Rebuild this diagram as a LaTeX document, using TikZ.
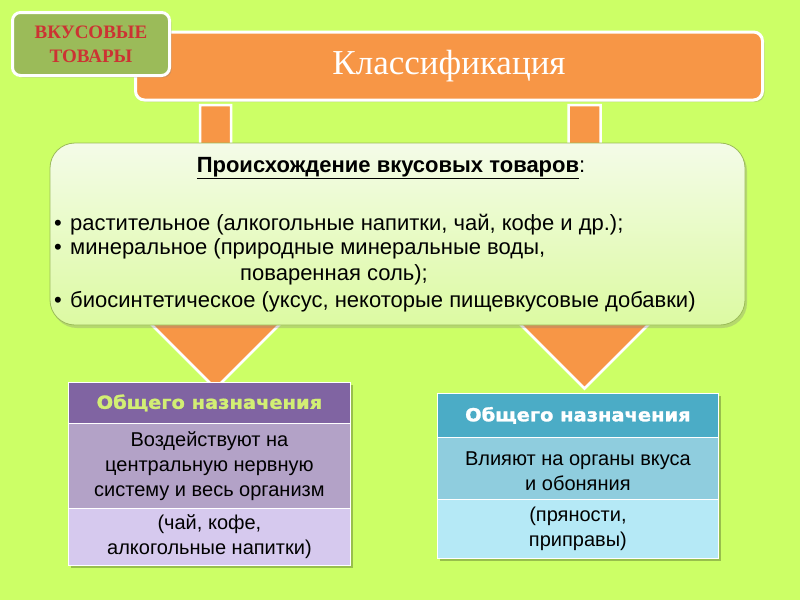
\documentclass[tikz,border=0pt]{standalone}
\usepackage{fontspec}
\setmainfont{Liberation Serif}
\newfontfamily\arialf{Liberation Sans}
\newfontfamily\heavyf[FakeStretch=1.08,FakeBold=1.5]{DejaVu Sans}
\usetikzlibrary{shadows}
\definecolor{bg}{HTML}{CCFF66}
\definecolor{olive}{HTML}{9BBB59}
\definecolor{redtxt}{HTML}{CC3333}
\definecolor{orangef}{HTML}{F79646}
\definecolor{lighttop}{HTML}{F4FBE8}
\definecolor{lightbot}{HTML}{DCFAA2}
\definecolor{purpH}{HTML}{8064A2}
\definecolor{purpM}{HTML}{B3A2C7}
\definecolor{purpB}{HTML}{D6C9EE}
\definecolor{purpTxt}{HTML}{D2EE74}
\definecolor{tealH}{HTML}{4BACC6}
\definecolor{tealM}{HTML}{8FCDDE}
\definecolor{tealB}{HTML}{B5E9F6}
\tikzset{
  arrowshape/.style={fill=orangef, draw=white, line width=2.5pt, line join=miter},
  tagbox/.style={fill=olive, draw=white, line width=3pt, rounded corners=8pt,
    minimum width=157pt, minimum height=63pt, inner sep=0pt, align=center,
    text=redtxt, font=\fontsize{19}{24}\selectfont\bfseries,
    drop shadow={opacity=0.3, shadow xshift=2pt, shadow yshift=-2pt}},
  barbox/.style={fill=orangef, draw=white, line width=3pt, rounded corners=9pt,
    minimum width=627pt, minimum height=68pt, inner sep=0pt,
    text=white, font=\fontsize{35}{40}\selectfont,
    drop shadow={opacity=0.3, shadow xshift=2pt, shadow yshift=-2pt}},
  lightbox/.style={top color=lighttop, bottom color=lightbot, draw=olive, line width=0.8pt,
    rounded corners=25pt, minimum width=695pt, minimum height=182pt, inner sep=0pt,
    drop shadow={opacity=0.3, shadow xshift=2pt, shadow yshift=-3pt}},
  bodytxt/.style={font=\arialf\fontsize{22}{25}\selectfont, inner sep=0pt, text=black},
  rowbox/.style={minimum width=282pt, inner sep=0pt, align=center, draw=white, line width=0.8pt},
  headtxt/.style={font=\heavyf\fontsize{18}{20}\selectfont\bfseries},
  celltxt/.style={font=\arialf\fontsize{20}{25}\selectfont, text=black},
  tabshadow/.style={fill=black, opacity=0.25}
}
\begin{document}
\begin{tikzpicture}[x=1pt,y=-1pt]
\fill[bg] (0,0) rectangle (800,600);
\useasboundingbox (0,0) rectangle (800,600);

% orange arrows
\path[arrowshape] (200,105) -- (200,300) -- (127,300) -- (215.5,388.5) -- (304,300) -- (231,300) -- (231,105) -- cycle;
\path[arrowshape] (568.5,105) -- (568.5,300) -- (496,300) -- (584.5,388.5) -- (673,300) -- (600.5,300) -- (600.5,105) -- cycle;

% title bar
\node[barbox] (cls) at (449,66) {Классификация};
% tag
\node[tagbox] (tag) at (91,44) {ВКУСОВЫЕ\\ТОВАРЫ};

% light box
\node[lightbox] (orig) at (397.5,234) {};
\node[bodytxt] (ttl) at (391,168) {\textbf{\underline{Происхождение вкусовых товаров}}:};
\node[bodytxt, anchor=base west] (b1) at (54,230) {•};
\node[bodytxt, anchor=base west] (l1) at (70,230) {растительное (алкогольные напитки, чай, кофе и др.);};
\node[bodytxt, anchor=base west] (b2) at (54,254) {•};
\node[bodytxt, anchor=base west] (l2) at (70,254) {минеральное (природные минеральные воды,};
\node[bodytxt, anchor=base west] (l3) at (240,280) {поваренная соль);};
\node[bodytxt, anchor=base west] (b4) at (54,307) {•};
\node[bodytxt, anchor=base west] (l4) at (70,307) {биосинтетическое (уксус, некоторые пищевкусовые добавки)};

% purple table
\fill[tabshadow] (71,385) rectangle (353,568);
\node[rowbox, fill=purpH, minimum height=41pt, anchor=north west] (ph) at (68,382) {};
\node[headtxt, text=purpTxt] (pht) at (ph.center) {Общего назначения};
\node[rowbox, fill=purpM, minimum height=85pt, anchor=north west] (pm) at (68,423) {};
\node[celltxt, align=center] (pmt) at (pm.center) {Воздействуют на\\центральную нервную\\систему и весь организм};
\node[rowbox, fill=purpB, minimum height=57pt, anchor=north west] (pb) at (68,508) {};
\node[celltxt, align=center] (pbt) at (pb.center) {(чай, кофе,\\алкогольные напитки)};

% teal table
\fill[tabshadow] (440,396) rectangle (721,561);
\node[rowbox, minimum width=281pt, fill=tealH, minimum height=44pt, anchor=north west] (th) at (437,393) {};
\node[headtxt, text=white] (tht) at (th.center) {Общего назначения};
\node[rowbox, minimum width=281pt, fill=tealM, minimum height=62pt, anchor=north west] (tm) at (437,437) {};
\node[celltxt, align=center] (tmt) at ([yshift=-3pt]tm.center) {Влияют на органы вкуса\\и обоняния};
\node[rowbox, minimum width=281pt, fill=tealB, minimum height=59pt, anchor=north west] (tb) at (437,499) {};
\node[celltxt, align=center] (tbt) at (tb.center) {(пряности,\\приправы)};
\end{tikzpicture}
\end{document}
